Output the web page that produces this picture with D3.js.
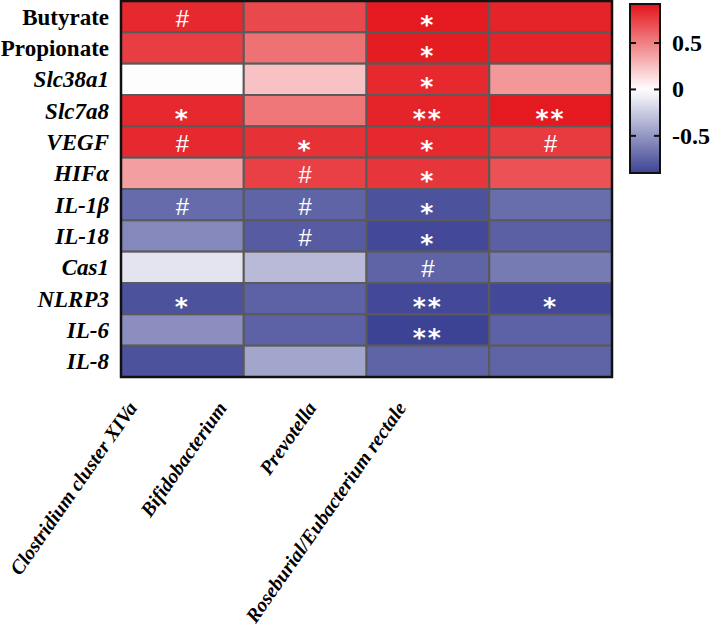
<!DOCTYPE html>
<html>
<head>
<meta charset="utf-8">
<script src="https://cdn.jsdelivr.net/npm/d3@7"></script>
<style>
  html, body { margin: 0; padding: 0; background: #fff; }
  svg { display: block; }
</style>
</head>
<body>
<svg id="chart" width="714" height="630"></svg>
<script>
// ---------- data ----------
const rows = ["Butyrate", "Propionate", "Slc38a1", "Slc7a8", "VEGF", "HIFα", "IL-1β", "IL-18", "Cas1", "NLRP3", "IL-6", "IL-8"];
const italicRows = ["Slc38a1", "Slc7a8", "VEGF", "HIFα", "IL-1β", "IL-18", "Cas1", "NLRP3", "IL-6", "IL-8"];
const cols = ["Clostridium cluster XIVa", "Bifidobacterium", "Prevotella", "Roseburial/Eubacterium rectale"];

const clostridium = [0.84, 0.76, -0.01, 0.84, 0.84, 0.38, -0.71, -0.57, -0.13, -0.83, -0.54, -0.83];
const bifidobacterium = [0.72, 0.56, 0.24, 0.54, 0.81, 0.75, -0.74, -0.78, -0.33, -0.75, -0.75, -0.43];
const prevotella = [0.90, 0.89, 0.84, 0.86, 0.84, 0.79, -0.83, -0.87, -0.74, -0.87, -0.90, -0.74];
const roseburia = [0.86, 0.86, 0.41, 0.90, 0.77, 0.68, -0.70, -0.76, -0.63, -0.87, -0.75, -0.74];

const sigClostridium = ["#", "", "", "*", "#", "", "#", "", "", "*", "", ""];
const sigBifidobacterium = ["", "", "", "", "*", "#", "#", "#", "", "", "", ""];
const sigPrevotella = ["*", "*", "*", "**", "*", "*", "*", "*", "#", "**", "**", ""];
const sigRoseburia = ["", "", "", "**", "#", "", "", "", "", "*", "", ""];

const colorTicks = [0.5, 0, -0.5];
const colorTickLabels = ["0.5", "0", "-0.5"];
const colorDomain = [-0.9, 0, 0.92];

// ---------- build ----------
const values = [clostridium, bifidobacterium, prevotella, roseburia];
const sigs = [sigClostridium, sigBifidobacterium, sigPrevotella, sigRoseburia];
const cells = [];
cols.forEach((c, ci) => rows.forEach((r, ri) => {
  cells.push({ col: c, row: r, value: values[ci][ri], sig: sigs[ci][ri] });
}));

const svg = d3.select("#chart");
const x = d3.scaleBand().domain(cols).range([121, 612]);
const y = d3.scaleBand().domain(rows).range([1, 377]);
const color = d3.scaleLinear().domain(colorDomain)
  .range(["#3d4394", "#ffffff", "#e3151b"]).clamp(true);

const serif = "'Liberation Serif', 'Times New Roman', serif";
const sans = "'Liberation Sans', Arial, sans-serif";

// cells
svg.append("g").selectAll("rect").data(cells).join("rect")
  .attr("x", d => x(d.col))
  .attr("y", d => y(d.row))
  .attr("width", x.bandwidth())
  .attr("height", y.bandwidth())
  .attr("fill", d => color(d.value))
  .attr("stroke", "#5a5a5a")
  .attr("stroke-width", 2);

// outer frame
svg.append("rect")
  .attr("x", x.range()[0]).attr("y", y.range()[0])
  .attr("width", x.range()[1] - x.range()[0])
  .attr("height", y.range()[1] - y.range()[0])
  .attr("fill", "none").attr("stroke", "#111").attr("stroke-width", 2.5);

// significance marks
const marks = svg.append("g").selectAll("text").data(cells.filter(d => d.sig)).join("text")
  .attr("x", d => x(d.col) + x.bandwidth() / 2)
  .attr("text-anchor", "middle")
  .attr("fill", "#fff")
  .text(d => d.sig);
marks.filter(d => d.sig === "#")
  .attr("y", d => y(d.row) + y.bandwidth() / 2 + 10)
  .attr("font-family", sans).attr("font-size", 24);
marks.filter(d => d.sig !== "#")
  .attr("y", d => y(d.row) + y.bandwidth() / 2 + 16)
  .attr("font-family", "'DejaVu Sans', sans-serif").attr("font-weight", "bold")
  .attr("font-size", 25)
  .attr("letter-spacing", 2);

// row labels
svg.append("g").selectAll("text").data(rows).join("text")
  .attr("x", 109)
  .attr("y", d => y(d) + y.bandwidth() / 2 + 8)
  .attr("text-anchor", "end")
  .attr("font-family", serif)
  .attr("font-weight", "bold")
  .attr("font-size", 23)
  .attr("font-style", d => italicRows.includes(d) ? "italic" : "normal")
  .text(d => d);

// column labels
const labelX = d3.scalePoint().domain(cols).range([138, 407]);
svg.append("g").selectAll("text").data(cols).join("text")
  .attr("transform", d => `translate(${labelX(d)},408) rotate(-55)`)
  .attr("text-anchor", "end")
  .attr("font-family", serif)
  .attr("font-weight", "bold")
  .attr("font-style", "italic")
  .attr("font-size", 20)
  .text(d => d);

// colour bar
const cb = { x: 630, w: 30 };
const cy = d3.scaleLinear().domain([colorDomain[0], colorDomain[2]]).range([173, 4]);
const defs = svg.append("defs");
const grad = defs.append("linearGradient").attr("id", "cbgrad")
  .attr("x1", 0).attr("y1", 1).attr("x2", 0).attr("y2", 0);
d3.range(0, 1.0001, 0.05).forEach(t => {
  const v = colorDomain[0] + t * (colorDomain[2] - colorDomain[0]);
  grad.append("stop").attr("offset", t).attr("stop-color", color(v));
});
svg.append("rect")
  .attr("x", cb.x).attr("y", cy.range()[1])
  .attr("width", cb.w).attr("height", cy.range()[0] - cy.range()[1])
  .attr("fill", "url(#cbgrad)")
  .attr("stroke", "#111").attr("stroke-width", 2);
const tg = svg.append("g").selectAll("g").data(colorTicks).join("g")
  .attr("transform", d => `translate(0,${cy(d)})`);
tg.append("line").attr("x1", cb.x).attr("x2", cb.x + 6).attr("stroke", "#111").attr("stroke-width", 2);
tg.append("line").attr("x1", cb.x + cb.w - 6).attr("x2", cb.x + cb.w).attr("stroke", "#111").attr("stroke-width", 2);
tg.append("text")
  .attr("x", 672).attr("y", 8)
  .attr("font-family", serif).attr("font-weight", "bold").attr("font-size", 24)
  .text((d, i) => colorTickLabels[i]);
</script>
</body>
</html>
